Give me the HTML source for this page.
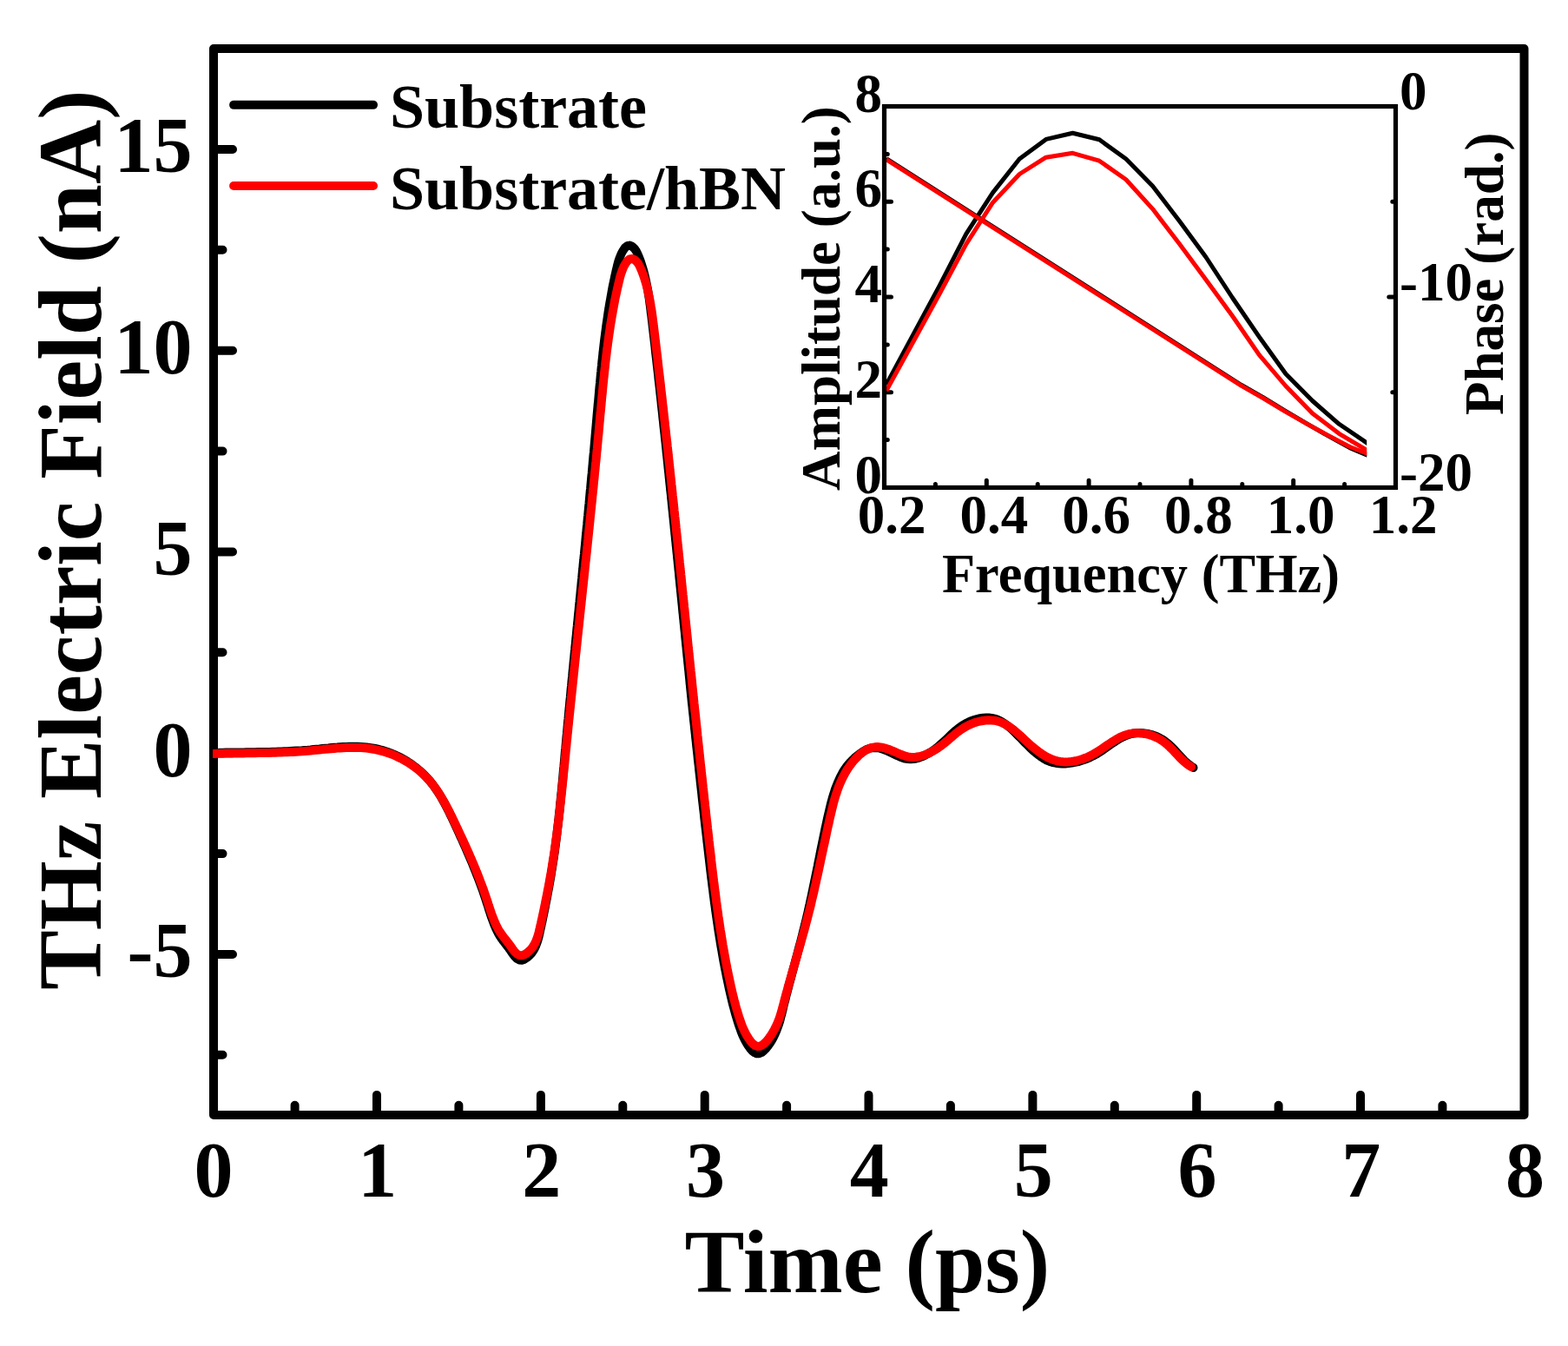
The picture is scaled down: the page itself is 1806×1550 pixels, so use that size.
<!DOCTYPE html>
<html><head><meta charset="utf-8"><title>THz Electric Field</title>
<style>html,body{margin:0;padding:0;background:#fff;overflow:hidden}svg{display:block}</style>
</head><body>
<svg width="1806" height="1550" viewBox="0 0 1806 1550"><rect x="0" y="0" width="1806" height="1550" fill="#fff"/>
<rect x="246.0" y="56.0" width="1509.5" height="1228.0" fill="none" stroke="#000" stroke-width="10" stroke-linejoin="round"/>
<path d="M434.0,1284.0 V1260.9 M622.9,1284.0 V1260.9 M811.7,1284.0 V1260.9 M1000.5,1284.0 V1260.9 M1189.4,1284.0 V1260.9 M1378.2,1284.0 V1260.9 M1567.0,1284.0 V1260.9 M339.6,1284.0 V1272.7 M528.4,1284.0 V1272.7 M717.3,1284.0 V1272.7 M906.1,1284.0 V1272.7 M1094.9,1284.0 V1272.7 M1283.8,1284.0 V1272.7 M1472.6,1284.0 V1272.7 M1661.4,1284.0 V1272.7 M246.0,1099.0 H268.0 M246.0,867.2 H268.0 M246.0,635.5 H268.0 M246.0,403.7 H268.0 M246.0,172.0 H268.0 M246.0,1214.8 H256.5 M246.0,983.1 H256.5 M246.0,751.3 H256.5 M246.0,519.6 H256.5 M246.0,287.8 H256.5" stroke="#000" stroke-width="10" stroke-linecap="round" fill="none"/>
<g font-family="'Liberation Serif', 'Times New Roman', serif" font-weight="bold" fill="#000"><text x="246.0" y="1378.0" font-size="90.0" text-anchor="middle">0</text><text x="434.8" y="1378.0" font-size="90.0" text-anchor="middle">1</text><text x="623.7" y="1378.0" font-size="90.0" text-anchor="middle">2</text><text x="812.5" y="1378.0" font-size="90.0" text-anchor="middle">3</text><text x="1001.3" y="1378.0" font-size="90.0" text-anchor="middle">4</text><text x="1190.2" y="1378.0" font-size="90.0" text-anchor="middle">5</text><text x="1379.0" y="1378.0" font-size="90.0" text-anchor="middle">6</text><text x="1567.8" y="1378.0" font-size="90.0" text-anchor="middle">7</text><text x="1756.6" y="1378.0" font-size="90.0" text-anchor="middle">8</text><text x="221.5" y="1125.2" font-size="90.0" text-anchor="end">-5</text><text x="221.5" y="893.5" font-size="90.0" text-anchor="end">0</text><text x="221.5" y="661.8" font-size="90.0" text-anchor="end">5</text><text x="221.5" y="430.0" font-size="90.0" text-anchor="end">10</text><text x="221.5" y="198.3" font-size="90.0" text-anchor="end">15</text><text x="788.5" y="1487.6" font-size="103.5" text-anchor="start">Time (ps)</text><text transform="translate(116,1139.8) rotate(-90)" font-size="102.8" x="0" y="0">THz Electric Field (nA)</text><text x="449.0" y="147.1" font-size="72.0" text-anchor="start">Substrate</text><text x="449.0" y="240.6" font-size="72.0" text-anchor="start">Substrate/hBN</text></g>
<path d="M269.1,120.85 H430" stroke="#000" stroke-width="10" stroke-linecap="round"/>
<path d="M269.1,213.95 H430" stroke="#f00" stroke-width="10" stroke-linecap="round"/>
<clipPath id="mc"><rect x="245" y="0" width="1600" height="1550"/></clipPath><g clip-path="url(#mc)">
<path d="M243.0,867.0 L246.4,866.9 L249.8,866.9 L253.2,866.8 L256.6,866.7 L260.0,866.6 L263.4,866.6 L266.8,866.5 L270.2,866.5 L273.5,866.5 L276.9,866.4 L280.3,866.4 L283.6,866.3 L287.0,866.3 L290.4,866.2 L293.7,866.2 L297.1,866.1 L300.5,866.1 L303.8,866.0 L307.2,865.9 L310.5,865.9 L313.9,865.8 L317.3,865.7 L320.6,865.6 L324.0,865.5 L327.3,865.3 L330.7,865.2 L334.1,865.0 L337.4,864.8 L340.8,864.6 L344.2,864.4 L347.6,864.2 L351.0,863.9 L354.4,863.7 L357.7,863.4 L361.1,863.0 L364.5,862.7 L367.9,862.4 L371.4,862.0 L374.8,861.7 L378.2,861.4 L381.6,861.0 L385.0,860.7 L388.4,860.5 L391.8,860.2 L395.2,860.0 L398.6,859.9 L402.0,859.8 L405.3,859.7 L408.7,859.7 L412.1,859.8 L415.4,859.9 L418.8,860.2 L422.1,860.5 L425.4,860.9 L428.7,861.4 L432.0,862.0 L435.3,862.7 L438.6,863.5 L441.8,864.4 L445.0,865.5 L448.2,866.6 L451.4,867.8 L454.5,869.1 L457.6,870.5 L460.7,872.0 L463.7,873.6 L466.6,875.3 L469.5,877.1 L472.4,879.0 L475.2,880.9 L477.9,882.9 L480.6,885.1 L483.2,887.3 L485.8,889.5 L488.2,891.9 L490.6,894.3 L492.9,896.8 L495.2,899.4 L497.3,902.1 L499.4,904.8 L501.4,907.6 L503.3,910.4 L505.2,913.3 L507.0,916.2 L508.8,919.2 L510.5,922.2 L512.2,925.3 L513.8,928.3 L515.4,931.4 L517.0,934.6 L518.5,937.7 L520.1,940.9 L521.5,944.0 L523.0,947.2 L524.5,950.4 L525.9,953.5 L527.4,956.7 L528.8,959.8 L530.2,963.0 L531.7,966.1 L533.1,969.3 L534.5,972.4 L535.9,975.5 L537.3,978.7 L538.6,981.8 L540.0,985.0 L541.3,988.1 L542.7,991.3 L544.0,994.4 L545.3,997.6 L546.6,1000.8 L547.9,1004.0 L549.1,1007.1 L550.4,1010.4 L551.6,1013.6 L552.8,1016.8 L554.0,1020.0 L555.2,1023.3 L556.4,1026.6 L557.5,1029.9 L558.6,1033.2 L559.7,1036.5 L560.8,1039.9 L561.9,1043.2 L562.9,1046.6 L564.0,1050.0 L565.1,1053.3 L566.2,1056.6 L567.4,1059.9 L568.6,1063.1 L569.9,1066.3 L571.3,1069.5 L572.8,1072.5 L574.3,1075.5 L576.0,1078.3 L577.9,1081.1 L579.8,1083.7 L581.9,1086.4 L584.0,1089.2 L586.2,1092.1 L588.4,1095.2 L590.6,1098.5 L592.9,1101.5 L595.4,1104.0 L598.1,1105.5 L601.0,1105.8 L604.1,1104.7 L607.1,1102.7 L609.9,1100.3 L612.3,1097.6 L614.3,1094.7 L616.0,1091.7 L617.4,1088.6 L618.6,1085.3 L619.7,1082.0 L620.6,1078.6 L621.4,1075.2 L622.1,1071.8 L622.9,1068.3 L623.6,1064.9 L624.4,1061.5 L625.1,1058.0 L625.8,1054.6 L626.5,1051.2 L627.2,1047.8 L627.9,1044.4 L628.5,1041.0 L629.2,1037.6 L629.9,1034.2 L630.5,1030.8 L631.1,1027.4 L631.8,1024.0 L632.4,1020.6 L633.0,1017.2 L633.6,1013.8 L634.2,1010.4 L634.8,1007.0 L635.3,1003.5 L635.9,1000.1 L636.4,996.7 L636.9,993.3 L637.5,989.9 L638.0,986.4 L638.5,983.0 L639.0,979.6 L639.4,976.2 L639.9,972.7 L640.3,969.3 L640.8,965.8 L641.2,962.4 L641.6,959.0 L642.0,955.5 L642.4,952.1 L642.8,948.6 L643.2,945.2 L643.6,941.7 L643.9,938.2 L644.3,934.8 L644.7,931.3 L645.0,927.9 L645.4,924.4 L645.7,920.9 L646.1,917.5 L646.4,914.0 L646.8,910.5 L647.1,907.1 L647.4,903.6 L647.8,900.1 L648.1,896.7 L648.4,893.2 L648.7,889.7 L649.0,886.3 L649.4,882.8 L649.7,879.3 L650.0,875.9 L650.3,872.4 L650.6,868.9 L650.9,865.4 L651.3,862.0 L651.6,858.5 L651.9,855.1 L652.2,851.6 L652.5,848.2 L652.9,844.7 L653.2,841.3 L653.5,837.8 L653.8,834.4 L654.1,830.9 L654.5,827.5 L654.8,824.0 L655.1,820.6 L655.4,817.1 L655.8,813.7 L656.1,810.2 L656.4,806.8 L656.8,803.3 L657.1,799.9 L657.4,796.4 L657.7,793.0 L658.1,789.5 L658.4,786.1 L658.7,782.7 L659.1,779.2 L659.4,775.8 L659.7,772.3 L660.1,768.9 L660.4,765.4 L660.7,762.0 L661.1,758.6 L661.4,755.1 L661.7,751.7 L662.1,748.2 L662.4,744.8 L662.8,741.4 L663.1,737.9 L663.4,734.5 L663.8,731.1 L664.1,727.6 L664.4,724.2 L664.8,720.7 L665.1,717.3 L665.5,713.9 L665.8,710.4 L666.1,707.0 L666.5,703.6 L666.8,700.1 L667.1,696.7 L667.5,693.2 L667.8,689.8 L668.2,686.4 L668.5,682.9 L668.8,679.5 L669.2,676.1 L669.5,672.6 L669.8,669.2 L670.2,665.7 L670.5,662.3 L670.8,658.9 L671.2,655.4 L671.5,652.0 L671.8,648.5 L672.2,645.1 L672.5,641.7 L672.9,638.2 L673.2,634.8 L673.5,631.4 L673.9,627.9 L674.2,624.5 L674.5,621.0 L674.8,617.6 L675.2,614.1 L675.5,610.7 L675.8,607.3 L676.2,603.8 L676.5,600.4 L676.8,596.9 L677.2,593.5 L677.5,590.0 L677.8,586.6 L678.1,583.2 L678.5,579.7 L678.8,576.3 L679.1,572.8 L679.4,569.4 L679.7,565.9 L680.1,562.5 L680.4,559.0 L680.7,555.6 L681.0,552.1 L681.3,548.7 L681.7,545.2 L682.0,541.8 L682.3,538.3 L682.6,534.9 L682.9,531.4 L683.2,528.0 L683.5,524.5 L683.9,521.0 L684.2,517.6 L684.5,514.1 L684.8,510.7 L685.1,507.2 L685.4,503.8 L685.7,500.3 L686.0,496.8 L686.3,493.4 L686.6,489.9 L686.9,486.4 L687.2,483.0 L687.5,479.5 L687.8,476.0 L688.1,472.6 L688.4,469.1 L688.7,465.6 L689.1,462.2 L689.4,458.7 L689.7,455.2 L690.0,451.7 L690.3,448.3 L690.6,444.8 L691.0,441.3 L691.3,437.9 L691.6,434.4 L691.9,430.9 L692.3,427.5 L692.6,424.0 L693.0,420.5 L693.3,417.1 L693.7,413.6 L694.1,410.2 L694.4,406.7 L694.8,403.3 L695.2,399.8 L695.6,396.4 L696.0,392.9 L696.4,389.5 L696.9,386.0 L697.3,382.6 L697.8,379.2 L698.2,375.7 L698.7,372.3 L699.2,368.9 L699.7,365.5 L700.2,362.0 L700.7,358.6 L701.3,355.2 L701.8,351.8 L702.4,348.4 L703.0,345.0 L703.6,341.6 L704.2,338.3 L704.8,334.9 L705.4,331.5 L706.1,328.1 L706.8,324.8 L707.5,321.4 L708.2,318.1 L709.0,314.7 L709.7,311.4 L710.5,308.1 L711.3,304.7 L712.2,301.4 L713.3,298.1 L714.5,294.9 L715.9,291.6 L717.7,288.4 L719.7,285.4 L722.3,283.2 L725.3,282.6 L728.2,283.9 L730.7,286.2 L732.6,288.9 L734.2,292.0 L735.6,295.2 L736.9,298.5 L738.1,301.8 L739.2,305.2 L740.2,308.5 L741.2,311.8 L742.1,315.2 L742.9,318.6 L743.7,321.9 L744.4,325.3 L745.1,328.7 L745.8,332.1 L746.4,335.5 L746.9,338.9 L747.5,342.3 L748.0,345.8 L748.4,349.2 L748.9,352.6 L749.3,356.0 L749.7,359.5 L750.2,362.9 L750.6,366.3 L751.0,369.8 L751.4,373.2 L751.8,376.7 L752.2,380.1 L752.6,383.5 L753.0,387.0 L753.4,390.4 L753.8,393.8 L754.2,397.3 L754.6,400.7 L754.9,404.2 L755.3,407.6 L755.7,411.0 L756.1,414.5 L756.5,417.9 L756.9,421.4 L757.3,424.8 L757.7,428.2 L758.1,431.7 L758.4,435.1 L758.8,438.6 L759.2,442.0 L759.6,445.4 L760.0,448.9 L760.3,452.3 L760.7,455.8 L761.1,459.2 L761.5,462.6 L761.8,466.1 L762.2,469.5 L762.6,473.0 L763.0,476.4 L763.3,479.9 L763.7,483.3 L764.1,486.8 L764.4,490.2 L764.8,493.6 L765.2,497.1 L765.6,500.5 L765.9,504.0 L766.3,507.4 L766.7,510.9 L767.0,514.3 L767.4,517.8 L767.7,521.2 L768.1,524.6 L768.5,528.1 L768.8,531.5 L769.2,535.0 L769.5,538.4 L769.9,541.9 L770.3,545.3 L770.6,548.8 L771.0,552.2 L771.3,555.7 L771.7,559.1 L772.0,562.6 L772.4,566.0 L772.8,569.4 L773.1,572.9 L773.5,576.3 L773.8,579.8 L774.2,583.2 L774.5,586.7 L774.9,590.1 L775.2,593.6 L775.6,597.0 L775.9,600.5 L776.3,603.9 L776.6,607.4 L777.0,610.8 L777.3,614.3 L777.7,617.7 L778.0,621.2 L778.4,624.6 L778.7,628.1 L779.1,631.5 L779.4,635.0 L779.8,638.4 L780.1,641.9 L780.5,645.3 L780.8,648.8 L781.2,652.2 L781.5,655.7 L781.9,659.1 L782.2,662.6 L782.5,666.0 L782.9,669.5 L783.2,672.9 L783.6,676.4 L783.9,679.8 L784.3,683.2 L784.6,686.7 L785.0,690.1 L785.3,693.6 L785.7,697.0 L786.0,700.5 L786.3,703.9 L786.7,707.4 L787.0,710.8 L787.4,714.3 L787.7,717.7 L788.1,721.2 L788.4,724.6 L788.8,728.1 L789.1,731.5 L789.4,735.0 L789.8,738.4 L790.1,741.9 L790.5,745.3 L790.8,748.8 L791.2,752.2 L791.5,755.7 L791.9,759.1 L792.2,762.6 L792.6,766.0 L792.9,769.5 L793.3,772.9 L793.6,776.4 L794.0,779.8 L794.3,783.3 L794.6,786.7 L795.0,790.2 L795.3,793.6 L795.7,797.1 L796.0,800.5 L796.4,804.0 L796.7,807.4 L797.1,810.8 L797.5,814.3 L797.8,817.7 L798.2,821.2 L798.6,824.6 L798.9,828.1 L799.3,831.5 L799.7,835.0 L800.0,838.4 L800.4,841.9 L800.8,845.3 L801.1,848.8 L801.5,852.2 L801.9,855.7 L802.2,859.1 L802.6,862.5 L803.0,866.0 L803.4,869.4 L803.7,872.9 L804.1,876.4 L804.5,879.8 L804.9,883.3 L805.2,886.7 L805.6,890.2 L806.0,893.6 L806.4,897.1 L806.7,900.5 L807.1,904.0 L807.5,907.5 L807.9,910.9 L808.3,914.4 L808.6,917.8 L809.0,921.3 L809.4,924.7 L809.8,928.2 L810.2,931.6 L810.6,935.1 L811.0,938.5 L811.3,942.0 L811.7,945.4 L812.1,948.9 L812.5,952.3 L812.9,955.8 L813.3,959.2 L813.7,962.7 L814.1,966.1 L814.5,969.6 L814.9,973.0 L815.3,976.5 L815.7,979.9 L816.1,983.4 L816.5,986.8 L816.9,990.3 L817.3,993.7 L817.7,997.2 L818.1,1000.6 L818.5,1004.1 L818.9,1007.5 L819.3,1011.0 L819.8,1014.4 L820.2,1017.9 L820.6,1021.3 L821.1,1024.7 L821.5,1028.2 L821.9,1031.6 L822.4,1035.1 L822.8,1038.5 L823.3,1042.0 L823.8,1045.4 L824.2,1048.8 L824.7,1052.3 L825.2,1055.7 L825.7,1059.2 L826.2,1062.6 L826.7,1066.0 L827.2,1069.5 L827.7,1072.9 L828.3,1076.4 L828.8,1079.8 L829.4,1083.2 L829.9,1086.7 L830.5,1090.1 L831.1,1093.5 L831.7,1097.0 L832.3,1100.4 L832.9,1103.8 L833.5,1107.2 L834.2,1110.7 L834.8,1114.1 L835.5,1117.5 L836.2,1120.9 L836.8,1124.4 L837.6,1127.8 L838.3,1131.2 L839.0,1134.6 L839.7,1138.0 L840.5,1141.5 L841.3,1144.9 L842.1,1148.3 L842.9,1151.7 L843.7,1155.1 L844.6,1158.4 L845.5,1161.8 L846.4,1165.1 L847.3,1168.5 L848.3,1171.7 L849.3,1175.0 L850.3,1178.3 L851.4,1181.5 L852.5,1184.7 L853.6,1187.8 L854.9,1191.0 L856.2,1194.1 L857.8,1197.3 L859.6,1200.6 L861.6,1203.9 L863.9,1207.2 L866.3,1210.0 L869.0,1212.2 L871.7,1213.3 L874.4,1213.2 L877.2,1212.0 L879.9,1209.8 L882.6,1207.1 L885.0,1203.9 L887.3,1200.6 L889.3,1197.3 L891.1,1194.0 L892.6,1190.8 L894.1,1187.5 L895.3,1184.3 L896.5,1181.1 L897.5,1177.9 L898.5,1174.7 L899.3,1171.4 L900.2,1168.2 L901.0,1165.0 L901.8,1161.8 L902.5,1158.5 L903.3,1155.3 L904.2,1152.0 L905.0,1148.7 L905.8,1145.4 L906.7,1142.1 L907.6,1138.8 L908.4,1135.5 L909.3,1132.2 L910.2,1128.9 L911.1,1125.6 L912.0,1122.2 L912.9,1118.9 L913.8,1115.5 L914.7,1112.2 L915.6,1108.8 L916.5,1105.4 L917.4,1102.1 L918.3,1098.7 L919.2,1095.3 L920.1,1091.9 L921.0,1088.5 L921.9,1085.2 L922.8,1081.8 L923.7,1078.4 L924.5,1075.0 L925.4,1071.6 L926.2,1068.2 L927.1,1064.8 L927.9,1061.4 L928.7,1058.1 L929.5,1054.7 L930.3,1051.3 L931.1,1047.9 L931.8,1044.5 L932.6,1041.1 L933.3,1037.7 L934.1,1034.4 L934.8,1031.0 L935.5,1027.6 L936.2,1024.2 L936.9,1020.8 L937.6,1017.5 L938.3,1014.1 L939.0,1010.7 L939.7,1007.3 L940.4,1003.9 L941.1,1000.5 L941.8,997.2 L942.4,993.8 L943.1,990.4 L943.8,987.0 L944.5,983.6 L945.1,980.2 L945.8,976.8 L946.5,973.4 L947.2,970.0 L947.9,966.7 L948.6,963.3 L949.3,959.9 L950.0,956.5 L950.7,953.1 L951.5,949.7 L952.2,946.3 L952.9,942.9 L953.7,939.5 L954.5,936.1 L955.3,932.7 L956.1,929.3 L956.9,925.9 L957.8,922.6 L958.7,919.2 L959.7,915.9 L960.8,912.6 L961.8,909.3 L963.0,906.1 L964.3,902.9 L965.6,899.7 L967.0,896.6 L968.5,893.5 L970.1,890.5 L971.8,887.5 L973.6,884.9 L975.5,882.3 L977.6,879.8 L979.7,877.4 L982.0,875.0 L984.5,872.6 L987.0,870.4 L989.7,868.4 L992.4,866.5 L995.3,864.6 L998.3,863.0 L1001.3,861.9 L1004.5,861.2 L1007.7,861.0 L1011.0,861.2 L1014.3,861.9 L1017.6,863.0 L1020.9,864.2 L1024.1,865.7 L1027.3,867.2 L1030.4,868.7 L1033.5,870.2 L1036.5,871.5 L1039.5,872.7 L1042.5,873.6 L1045.6,874.1 L1048.7,874.3 L1051.9,874.1 L1055.2,873.5 L1058.5,872.6 L1061.8,871.4 L1065.1,869.9 L1068.3,868.2 L1071.5,866.4 L1074.6,864.3 L1077.5,862.2 L1080.4,860.0 L1083.1,857.6 L1085.7,855.3 L1088.3,852.9 L1090.8,850.5 L1093.3,848.1 L1095.8,845.7 L1098.3,843.4 L1100.9,841.1 L1103.6,839.0 L1106.3,836.9 L1109.2,835.0 L1112.2,833.2 L1115.3,831.6 L1118.6,830.2 L1121.9,829.0 L1125.3,828.0 L1128.8,827.2 L1132.2,826.7 L1135.7,826.5 L1139.0,826.6 L1142.3,826.9 L1145.4,827.6 L1148.5,828.6 L1151.4,829.9 L1154.3,831.5 L1157.1,833.2 L1159.8,835.2 L1162.5,837.3 L1165.1,839.6 L1167.7,842.0 L1170.3,844.6 L1172.8,847.2 L1175.4,849.8 L1178.0,852.5 L1180.6,855.2 L1183.2,857.8 L1185.9,860.5 L1188.6,863.0 L1191.3,865.5 L1194.1,867.8 L1197.0,870.0 L1199.9,872.1 L1202.8,873.9 L1205.8,875.6 L1209.1,876.9 L1212.5,878.0 L1216.1,878.7 L1219.7,879.2 L1223.3,879.4 L1226.9,879.4 L1230.6,879.1 L1234.3,878.6 L1238.0,877.9 L1241.7,877.1 L1245.3,876.0 L1249.0,874.8 L1252.6,873.5 L1255.7,872.1 L1258.8,870.6 L1261.9,868.9 L1264.9,867.1 L1267.9,865.2 L1270.8,863.3 L1273.7,861.2 L1276.5,859.2 L1279.4,857.2 L1282.3,855.2 L1285.2,853.3 L1288.1,851.5 L1291.0,849.8 L1294.0,848.3 L1297.0,847.0 L1300.1,845.9 L1303.3,845.0 L1306.5,844.4 L1309.8,844.1 L1313.2,844.0 L1316.5,844.2 L1319.9,844.6 L1323.2,845.2 L1326.5,846.1 L1329.8,847.2 L1333.0,848.5 L1336.0,850.0 L1339.0,851.7 L1341.9,853.7 L1344.6,855.7 L1347.2,858.0 L1349.7,860.4 L1352.1,862.8 L1354.4,865.4 L1356.7,867.9 L1359.1,870.5 L1361.4,873.0 L1363.8,875.5 L1366.3,877.9 L1368.9,880.1 L1371.6,882.1 L1374.5,884.0" stroke="#000" stroke-width="10" fill="none" stroke-linecap="round" stroke-linejoin="round"/>
<path d="M243.0,868.0 L246.4,867.9 L249.8,867.8 L253.2,867.8 L256.6,867.7 L260.0,867.6 L263.4,867.6 L266.8,867.5 L270.2,867.5 L273.5,867.4 L276.9,867.4 L280.3,867.4 L283.6,867.3 L287.0,867.3 L290.4,867.2 L293.7,867.2 L297.1,867.1 L300.5,867.1 L303.8,867.0 L307.2,867.0 L310.5,866.9 L313.9,866.8 L317.3,866.7 L320.6,866.6 L324.0,866.5 L327.3,866.3 L330.7,866.2 L334.1,866.0 L337.4,865.9 L340.8,865.7 L344.2,865.5 L347.6,865.2 L351.0,865.0 L354.4,864.7 L357.7,864.4 L361.1,864.1 L364.5,863.8 L367.9,863.5 L371.4,863.1 L374.8,862.8 L378.2,862.5 L381.6,862.2 L385.0,861.9 L388.4,861.6 L391.8,861.4 L395.2,861.2 L398.6,861.0 L402.0,860.9 L405.3,860.9 L408.7,860.9 L412.1,861.0 L415.4,861.1 L418.8,861.3 L422.1,861.6 L425.4,862.0 L428.7,862.5 L432.0,863.1 L435.3,863.8 L438.6,864.6 L441.8,865.5 L445.0,866.5 L448.2,867.6 L451.4,868.7 L454.5,870.0 L457.6,871.4 L460.7,872.9 L463.7,874.4 L466.6,876.1 L469.5,877.8 L472.4,879.6 L475.2,881.5 L477.9,883.5 L480.6,885.5 L483.2,887.7 L485.8,889.9 L488.2,892.2 L490.6,894.6 L492.9,897.0 L495.2,899.5 L497.3,902.1 L499.4,904.7 L501.4,907.4 L503.3,910.2 L505.2,913.0 L507.0,915.9 L508.8,918.8 L510.5,921.7 L512.2,924.6 L513.8,927.6 L515.4,930.7 L517.0,933.7 L518.5,936.8 L520.1,939.8 L521.5,942.9 L523.0,946.0 L524.5,949.1 L525.9,952.1 L527.4,955.2 L528.8,958.3 L530.2,961.3 L531.7,964.4 L533.1,967.4 L534.5,970.5 L535.9,973.6 L537.3,976.6 L538.6,979.7 L540.0,982.7 L541.3,985.8 L542.7,988.9 L544.0,991.9 L545.3,995.0 L546.6,998.1 L547.9,1001.2 L549.1,1004.3 L550.4,1007.4 L551.6,1010.6 L552.8,1013.7 L554.0,1016.9 L555.2,1020.0 L556.4,1023.2 L557.5,1026.4 L558.6,1029.6 L559.7,1032.9 L560.8,1036.1 L561.9,1039.4 L562.9,1042.7 L564.0,1045.9 L565.1,1049.2 L566.2,1052.4 L567.4,1055.6 L568.6,1058.8 L569.9,1061.9 L571.3,1064.9 L572.8,1067.9 L574.3,1070.8 L576.0,1073.5 L577.9,1076.2 L579.8,1078.8 L581.9,1081.4 L584.0,1084.1 L586.2,1086.9 L588.4,1090.0 L590.6,1093.2 L592.9,1096.1 L595.4,1098.5 L598.1,1100.0 L601.0,1100.2 L604.1,1099.2 L607.1,1097.3 L609.9,1094.9 L612.3,1092.3 L614.3,1089.5 L616.0,1086.6 L617.4,1083.5 L618.6,1080.4 L619.7,1077.1 L620.6,1073.8 L621.4,1070.5 L622.1,1067.2 L622.9,1063.8 L623.6,1060.5 L624.4,1057.1 L625.1,1053.8 L625.8,1050.5 L626.5,1047.2 L627.2,1043.9 L627.9,1040.5 L628.5,1037.2 L629.2,1033.9 L629.9,1030.6 L630.5,1027.3 L631.1,1024.0 L631.8,1020.7 L632.4,1017.4 L633.0,1014.1 L633.6,1010.7 L634.2,1007.4 L634.8,1004.1 L635.3,1000.8 L635.9,997.5 L636.4,994.2 L636.9,990.8 L637.5,987.5 L638.0,984.2 L638.5,980.8 L639.0,977.5 L639.4,974.2 L639.9,970.8 L640.4,967.5 L640.8,964.1 L641.3,960.8 L641.7,957.4 L642.1,954.1 L642.6,950.7 L643.0,947.4 L643.4,944.0 L643.8,940.6 L644.2,937.3 L644.6,933.9 L645.0,930.5 L645.3,927.2 L645.7,923.8 L646.1,920.4 L646.4,917.1 L646.8,913.7 L647.2,910.3 L647.5,907.0 L647.9,903.6 L648.2,900.2 L648.6,896.8 L648.9,893.5 L649.2,890.1 L649.6,886.7 L649.9,883.3 L650.3,880.0 L650.6,876.6 L650.9,873.2 L651.3,869.8 L651.6,866.5 L651.9,863.1 L652.3,859.7 L652.6,856.4 L652.9,853.0 L653.3,849.6 L653.6,846.2 L654.0,842.9 L654.3,839.5 L654.6,836.1 L655.0,832.8 L655.3,829.4 L655.7,826.0 L656.0,822.7 L656.4,819.3 L656.7,815.9 L657.1,812.6 L657.4,809.2 L657.8,805.9 L658.1,802.5 L658.5,799.1 L658.8,795.8 L659.2,792.4 L659.5,789.1 L659.9,785.7 L660.2,782.3 L660.6,779.0 L660.9,775.6 L661.3,772.3 L661.6,768.9 L662.0,765.5 L662.3,762.2 L662.7,758.8 L663.0,755.5 L663.4,752.1 L663.8,748.8 L664.1,745.4 L664.5,742.1 L664.8,738.7 L665.2,735.3 L665.5,732.0 L665.9,728.6 L666.2,725.3 L666.6,721.9 L667.0,718.6 L667.3,715.2 L667.7,711.9 L668.0,708.5 L668.4,705.2 L668.7,701.8 L669.1,698.5 L669.5,695.1 L669.8,691.7 L670.2,688.4 L670.5,685.0 L670.9,681.7 L671.2,678.3 L671.6,675.0 L672.0,671.6 L672.3,668.3 L672.7,664.9 L673.0,661.6 L673.4,658.2 L673.7,654.9 L674.1,651.5 L674.4,648.1 L674.8,644.8 L675.2,641.4 L675.5,638.1 L675.9,634.7 L676.2,631.4 L676.6,628.0 L676.9,624.7 L677.3,621.3 L677.6,617.9 L678.0,614.6 L678.3,611.2 L678.7,607.9 L679.0,604.5 L679.4,601.1 L679.7,597.8 L680.0,594.4 L680.4,591.1 L680.7,587.7 L681.1,584.3 L681.4,581.0 L681.8,577.6 L682.1,574.3 L682.4,570.9 L682.8,567.5 L683.1,564.2 L683.5,560.8 L683.8,557.4 L684.1,554.1 L684.5,550.7 L684.8,547.3 L685.1,544.0 L685.5,540.6 L685.8,537.2 L686.1,533.8 L686.5,530.5 L686.8,527.1 L687.1,523.7 L687.4,520.3 L687.8,517.0 L688.1,513.6 L688.4,510.2 L688.7,506.8 L689.0,503.5 L689.4,500.1 L689.7,496.7 L690.0,493.3 L690.3,489.9 L690.6,486.6 L690.9,483.2 L691.2,479.8 L691.5,476.4 L691.9,473.0 L692.2,469.6 L692.5,466.2 L692.8,462.9 L693.1,459.5 L693.4,456.1 L693.8,452.7 L694.1,449.3 L694.4,445.9 L694.7,442.6 L695.1,439.2 L695.4,435.8 L695.8,432.4 L696.1,429.0 L696.5,425.7 L696.9,422.3 L697.2,418.9 L697.6,415.5 L698.0,412.2 L698.4,408.8 L698.8,405.5 L699.2,402.1 L699.7,398.7 L700.1,395.4 L700.6,392.0 L701.0,388.7 L701.5,385.3 L702.0,382.0 L702.5,378.7 L703.0,375.3 L703.5,372.0 L704.1,368.7 L704.6,365.4 L705.2,362.1 L705.8,358.7 L706.4,355.4 L707.0,352.1 L707.6,348.8 L708.2,345.5 L708.9,342.3 L709.6,339.0 L710.3,335.7 L711.0,332.4 L711.8,329.2 L712.5,325.9 L713.3,322.7 L714.1,319.4 L715.0,316.2 L716.1,313.0 L717.3,309.8 L718.7,306.6 L720.5,303.5 L722.5,300.6 L725.1,298.5 L728.1,297.9 L731.0,299.2 L733.5,301.4 L735.4,304.0 L737.0,307.0 L738.4,310.2 L739.7,313.4 L740.9,316.6 L742.0,319.8 L743.0,323.1 L744.0,326.4 L744.9,329.6 L745.7,332.9 L746.5,336.2 L747.2,339.5 L747.9,342.8 L748.6,346.1 L749.2,349.5 L749.7,352.8 L750.3,356.1 L750.8,359.5 L751.2,362.8 L751.7,366.1 L752.1,369.5 L752.5,372.8 L753.0,376.2 L753.4,379.5 L753.8,382.9 L754.2,386.2 L754.6,389.6 L755.0,392.9 L755.4,396.3 L755.8,399.7 L756.2,403.0 L756.6,406.4 L757.0,409.7 L757.4,413.1 L757.7,416.4 L758.1,419.8 L758.5,423.1 L758.9,426.5 L759.3,429.8 L759.7,433.2 L760.1,436.6 L760.5,439.9 L760.9,443.3 L761.2,446.6 L761.6,450.0 L762.0,453.3 L762.4,456.7 L762.8,460.1 L763.1,463.4 L763.5,466.8 L763.9,470.1 L764.3,473.5 L764.6,476.9 L765.0,480.2 L765.4,483.6 L765.8,486.9 L766.1,490.3 L766.5,493.6 L766.9,497.0 L767.2,500.4 L767.6,503.7 L768.0,507.1 L768.4,510.4 L768.7,513.8 L769.1,517.2 L769.5,520.5 L769.8,523.9 L770.2,527.3 L770.5,530.6 L770.9,534.0 L771.3,537.3 L771.6,540.7 L772.0,544.1 L772.3,547.4 L772.7,550.8 L773.1,554.1 L773.4,557.5 L773.8,560.9 L774.1,564.2 L774.5,567.6 L774.8,571.0 L775.2,574.3 L775.6,577.7 L775.9,581.1 L776.3,584.4 L776.6,587.8 L777.0,591.1 L777.3,594.5 L777.7,597.9 L778.0,601.2 L778.4,604.6 L778.7,608.0 L779.1,611.3 L779.4,614.7 L779.8,618.1 L780.1,621.4 L780.5,624.8 L780.8,628.1 L781.2,631.5 L781.5,634.9 L781.9,638.2 L782.2,641.6 L782.6,645.0 L782.9,648.3 L783.3,651.7 L783.6,655.1 L784.0,658.4 L784.3,661.8 L784.7,665.2 L785.0,668.5 L785.3,671.9 L785.7,675.3 L786.0,678.6 L786.4,682.0 L786.7,685.3 L787.1,688.7 L787.4,692.1 L787.8,695.4 L788.1,698.8 L788.5,702.2 L788.8,705.5 L789.1,708.9 L789.5,712.3 L789.8,715.6 L790.2,719.0 L790.5,722.4 L790.9,725.7 L791.2,729.1 L791.6,732.5 L791.9,735.8 L792.2,739.2 L792.6,742.6 L792.9,745.9 L793.3,749.3 L793.6,752.6 L794.0,756.0 L794.3,759.4 L794.7,762.7 L795.0,766.1 L795.4,769.5 L795.7,772.8 L796.1,776.2 L796.4,779.6 L796.8,782.9 L797.1,786.3 L797.4,789.7 L797.8,793.0 L798.1,796.4 L798.5,799.7 L798.8,803.1 L799.2,806.5 L799.5,809.8 L799.9,813.2 L800.2,816.6 L800.6,819.9 L801.0,823.3 L801.3,826.7 L801.7,830.0 L802.0,833.4 L802.4,836.7 L802.7,840.1 L803.1,843.5 L803.4,846.8 L803.8,850.2 L804.1,853.6 L804.5,856.9 L804.9,860.3 L805.2,863.6 L805.6,867.0 L805.9,870.4 L806.3,873.7 L806.6,877.1 L807.0,880.4 L807.4,883.8 L807.7,887.2 L808.1,890.5 L808.5,893.9 L808.8,897.2 L809.2,900.6 L809.6,904.0 L809.9,907.3 L810.3,910.7 L810.7,914.0 L811.0,917.4 L811.4,920.8 L811.8,924.1 L812.1,927.5 L812.5,930.8 L812.9,934.2 L813.2,937.6 L813.6,940.9 L814.0,944.3 L814.4,947.6 L814.8,951.0 L815.1,954.3 L815.5,957.7 L815.9,961.1 L816.3,964.4 L816.6,967.8 L817.0,971.1 L817.4,974.5 L817.8,977.8 L818.2,981.2 L818.6,984.5 L819.0,987.9 L819.3,991.3 L819.7,994.6 L820.1,998.0 L820.5,1001.3 L820.9,1004.7 L821.3,1008.0 L821.7,1011.4 L822.1,1014.7 L822.6,1018.1 L823.0,1021.4 L823.4,1024.8 L823.8,1028.1 L824.3,1031.5 L824.7,1034.8 L825.1,1038.2 L825.6,1041.5 L826.0,1044.9 L826.5,1048.2 L827.0,1051.6 L827.4,1054.9 L827.9,1058.3 L828.4,1061.6 L828.9,1064.9 L829.4,1068.3 L829.9,1071.6 L830.5,1075.0 L831.0,1078.3 L831.5,1081.7 L832.1,1085.0 L832.6,1088.3 L833.2,1091.7 L833.8,1095.0 L834.4,1098.3 L835.0,1101.7 L835.6,1105.0 L836.2,1108.3 L836.9,1111.7 L837.5,1115.0 L838.2,1118.3 L838.9,1121.7 L839.6,1125.0 L840.3,1128.3 L841.0,1131.6 L841.7,1135.0 L842.4,1138.3 L843.2,1141.6 L844.0,1144.9 L844.8,1148.2 L845.6,1151.5 L846.5,1154.7 L847.3,1158.0 L848.2,1161.2 L849.2,1164.4 L850.1,1167.6 L851.1,1170.8 L852.2,1173.9 L853.2,1177.0 L854.3,1180.1 L855.5,1183.1 L856.9,1186.2 L858.4,1189.3 L860.1,1192.5 L862.1,1195.7 L864.4,1198.9 L866.8,1201.7 L869.5,1203.8 L872.2,1204.9 L874.9,1204.8 L877.7,1203.6 L880.4,1201.5 L883.1,1198.8 L885.5,1195.7 L887.8,1192.5 L889.8,1189.3 L891.6,1186.1 L893.3,1182.9 L894.8,1179.8 L896.1,1176.6 L897.3,1173.5 L898.4,1170.4 L899.3,1167.3 L900.3,1164.1 L901.1,1161.0 L902.0,1157.9 L902.8,1154.7 L903.6,1151.6 L904.5,1148.4 L905.3,1145.2 L906.2,1142.0 L907.1,1138.8 L907.9,1135.6 L908.9,1132.4 L909.8,1129.2 L910.7,1126.0 L911.6,1122.7 L912.5,1119.5 L913.5,1116.2 L914.4,1113.0 L915.4,1109.7 L916.3,1106.5 L917.3,1103.2 L918.2,1099.9 L919.1,1096.6 L920.1,1093.4 L921.0,1090.1 L922.0,1086.8 L922.9,1083.5 L923.8,1080.2 L924.7,1076.9 L925.7,1073.6 L926.6,1070.3 L927.5,1067.0 L928.3,1063.7 L929.2,1060.4 L930.1,1057.1 L930.9,1053.8 L931.7,1050.5 L932.6,1047.2 L933.4,1044.0 L934.2,1040.7 L934.9,1037.4 L935.7,1034.1 L936.5,1030.8 L937.3,1027.5 L938.0,1024.2 L938.7,1020.9 L939.5,1017.6 L940.2,1014.3 L940.9,1011.0 L941.7,1007.8 L942.4,1004.5 L943.1,1001.2 L943.8,997.9 L944.5,994.6 L945.2,991.3 L945.9,988.0 L946.6,984.7 L947.3,981.4 L948.0,978.1 L948.7,974.8 L949.5,971.5 L950.2,968.2 L950.9,964.9 L951.6,961.6 L952.3,958.3 L953.0,955.0 L953.7,951.7 L954.5,948.4 L955.2,945.1 L955.9,941.8 L956.7,938.5 L957.5,935.2 L958.3,931.9 L959.1,928.6 L959.9,925.3 L960.8,922.0 L961.7,918.8 L962.7,915.5 L963.8,912.3 L964.8,909.2 L966.0,906.0 L967.3,902.9 L968.6,899.8 L970.0,896.8 L971.5,893.8 L973.1,890.8 L974.8,887.9 L976.6,885.0 L978.5,882.2 L980.6,879.4 L982.7,876.7 L985.0,874.1 L987.5,871.6 L990.0,869.2 L992.7,867.0 L995.4,865.0 L998.3,863.3 L1001.3,862.0 L1004.3,860.9 L1007.5,860.3 L1010.7,860.1 L1014.0,860.4 L1017.3,861.0 L1020.6,861.9 L1023.9,863.0 L1027.1,864.3 L1030.3,865.7 L1033.4,867.0 L1036.5,868.3 L1039.5,869.5 L1042.5,870.6 L1045.5,871.4 L1048.6,871.8 L1051.7,872.0 L1054.9,871.8 L1058.2,871.3 L1061.5,870.5 L1064.8,869.4 L1068.1,868.1 L1071.3,866.6 L1074.5,864.9 L1077.6,863.1 L1080.5,861.2 L1083.4,859.2 L1086.1,857.1 L1088.7,855.0 L1091.3,852.9 L1093.8,850.7 L1096.3,848.6 L1098.8,846.5 L1101.3,844.4 L1103.9,842.4 L1106.6,840.5 L1109.3,838.6 L1112.2,836.9 L1115.2,835.3 L1118.3,833.9 L1121.6,832.6 L1124.9,831.5 L1128.3,830.7 L1131.8,830.0 L1135.2,829.5 L1138.7,829.3 L1142.0,829.4 L1145.3,829.7 L1148.4,830.4 L1151.5,831.3 L1154.4,832.4 L1157.3,833.8 L1160.1,835.3 L1162.8,837.1 L1165.5,839.0 L1168.1,841.0 L1170.7,843.2 L1173.3,845.5 L1175.8,847.8 L1178.4,850.2 L1181.0,852.6 L1183.6,854.9 L1186.2,857.3 L1188.9,859.7 L1191.6,861.9 L1194.3,864.1 L1197.1,866.2 L1200.0,868.2 L1202.9,870.0 L1205.8,871.7 L1208.8,873.2 L1211.8,874.5 L1214.9,875.5 L1218.0,876.3 L1221.1,876.9 L1224.3,877.2 L1227.5,877.4 L1230.8,877.3 L1234.0,877.0 L1237.2,876.5 L1240.5,875.8 L1243.7,875.0 L1246.9,874.0 L1250.1,872.8 L1253.2,871.5 L1256.3,870.0 L1259.4,868.4 L1262.4,866.6 L1265.4,864.8 L1268.3,862.9 L1271.2,860.9 L1274.0,858.9 L1276.9,857.0 L1279.8,855.0 L1282.7,853.2 L1285.6,851.4 L1288.5,849.8 L1291.5,848.3 L1294.5,847.0 L1297.6,846.0 L1300.8,845.1 L1304.0,844.6 L1307.3,844.3 L1310.7,844.2 L1314.0,844.4 L1317.4,844.8 L1320.7,845.4 L1324.0,846.2 L1327.3,847.3 L1330.5,848.6 L1333.5,850.0 L1336.5,851.7 L1339.4,853.5 L1342.1,855.6 L1344.7,857.8 L1347.2,860.1 L1349.6,862.5 L1351.9,864.9 L1354.2,867.4 L1356.6,869.9 L1358.9,872.4 L1361.3,874.8 L1363.8,877.0 L1366.4,879.2 L1369.1,881.2 L1372.0,883.0" stroke="#f00" stroke-width="10" fill="none" stroke-linecap="round" stroke-linejoin="round"/>
</g>
<rect x="1018.5" y="122.5" width="589.0" height="439.0" fill="#fff" stroke="none"/>
<path d="M1136.3,561.5 V553.3 M1254.1,561.5 V553.3 M1371.9,561.5 V553.3 M1489.7,561.5 V553.3 M1077.4,561.5 V557.5 M1195.2,561.5 V557.5 M1313.0,561.5 V557.5 M1430.8,561.5 V557.5 M1548.6,561.5 V557.5 M1018.5,451.8 H1026.5 M1018.5,342.0 H1026.5 M1018.5,232.2 H1026.5 M1018.5,506.6 H1022.3 M1018.5,396.9 H1022.3 M1018.5,287.1 H1022.3 M1018.5,177.4 H1022.3 M1607.5,342.0 H1599.8 M1607.5,232.2 H1603.8 M1607.5,451.8 H1603.8" stroke="#000" stroke-width="5" stroke-linecap="round" fill="none"/>
<clipPath id="ic"><rect x="1015" y="100" width="559.2" height="470"/></clipPath><g clip-path="url(#ic)">
<path d="M1020.8,182.7 L1430.0,443.5 L1454.9,457.7 L1479.8,472.8 L1504.8,487.6 L1529.7,501.9 L1554.6,515.6 L1573.0,523.4 L1577.0,525.1" stroke="#000" stroke-width="5" fill="none" stroke-linejoin="round"/>
<path d="M1020.8,443.0 L1051.5,386.0 L1082.2,328.9 L1112.8,269.3 L1143.5,221.9 L1174.2,183.0 L1204.8,160.4 L1235.5,153.3 L1266.2,160.8 L1296.9,183.0 L1327.6,214.2 L1358.2,254.2 L1388.9,296.0 L1419.6,343.0 L1450.3,387.8 L1480.9,430.5 L1511.6,461.5 L1542.3,488.3 L1573.0,509.1 L1577.0,511.8" stroke="#000" stroke-width="5" fill="none" stroke-linejoin="round"/>
<path d="M1020.8,450.0 L1051.5,394.3 L1082.2,338.2 L1112.8,281.1 L1143.5,233.2 L1174.2,200.5 L1204.8,181.2 L1235.5,176.3 L1266.2,185.2 L1296.9,206.7 L1327.6,240.6 L1358.2,280.6 L1388.9,321.9 L1419.6,364.0 L1450.3,408.6 L1480.9,444.5 L1511.6,476.0 L1542.3,499.3 L1573.0,517.7 L1577.0,520.1" stroke="#f00" stroke-width="5" fill="none" stroke-linejoin="round"/>
<path d="M1020.8,183.7 L1430.0,444.3 L1454.9,458.5 L1479.8,473.6 L1504.8,487.8 L1529.7,501.4 L1554.6,514.5 L1573.0,521.8 L1577.0,523.4" stroke="#f00" stroke-width="5" fill="none" stroke-linejoin="round"/>
</g>
<rect x="1018.5" y="122.5" width="589.0" height="439.0" fill="none" stroke="#000" stroke-width="5.2"/>
<g font-family="'Liberation Serif', 'Times New Roman', serif" font-weight="bold" fill="#000"><text x="1027.0" y="613.5" font-size="63.0" text-anchor="middle">0.2</text><text x="1144.8" y="613.5" font-size="63.0" text-anchor="middle">0.4</text><text x="1262.6" y="613.5" font-size="63.0" text-anchor="middle">0.6</text><text x="1380.4" y="613.5" font-size="63.0" text-anchor="middle">0.8</text><text x="1498.2" y="613.5" font-size="63.0" text-anchor="middle">1.0</text><text x="1616.0" y="613.5" font-size="63.0" text-anchor="middle">1.2</text><text x="1016.0" y="567.5" font-size="63.0" text-anchor="end">0</text><text x="1016.0" y="457.8" font-size="63.0" text-anchor="end">2</text><text x="1016.0" y="348.0" font-size="63.0" text-anchor="end">4</text><text x="1016.0" y="238.2" font-size="63.0" text-anchor="end">6</text><text x="1016.0" y="128.5" font-size="63.0" text-anchor="end">8</text><text x="1612.0" y="126.0" font-size="63.0" text-anchor="start">0</text><text x="1612.0" y="345.5" font-size="63.0" text-anchor="start">-10</text><text x="1612.0" y="565.0" font-size="63.0" text-anchor="start">-20</text><text x="1085.0" y="681.5" font-size="62.4" text-anchor="start">Frequency (THz)</text><text transform="translate(967,565) rotate(-90)" font-size="63" x="0" y="0">Amplitude (a.u.)</text><text transform="translate(1731,478) rotate(-90)" font-size="63" x="0" y="0">Phase (rad.)</text></g></svg>
</body></html>
